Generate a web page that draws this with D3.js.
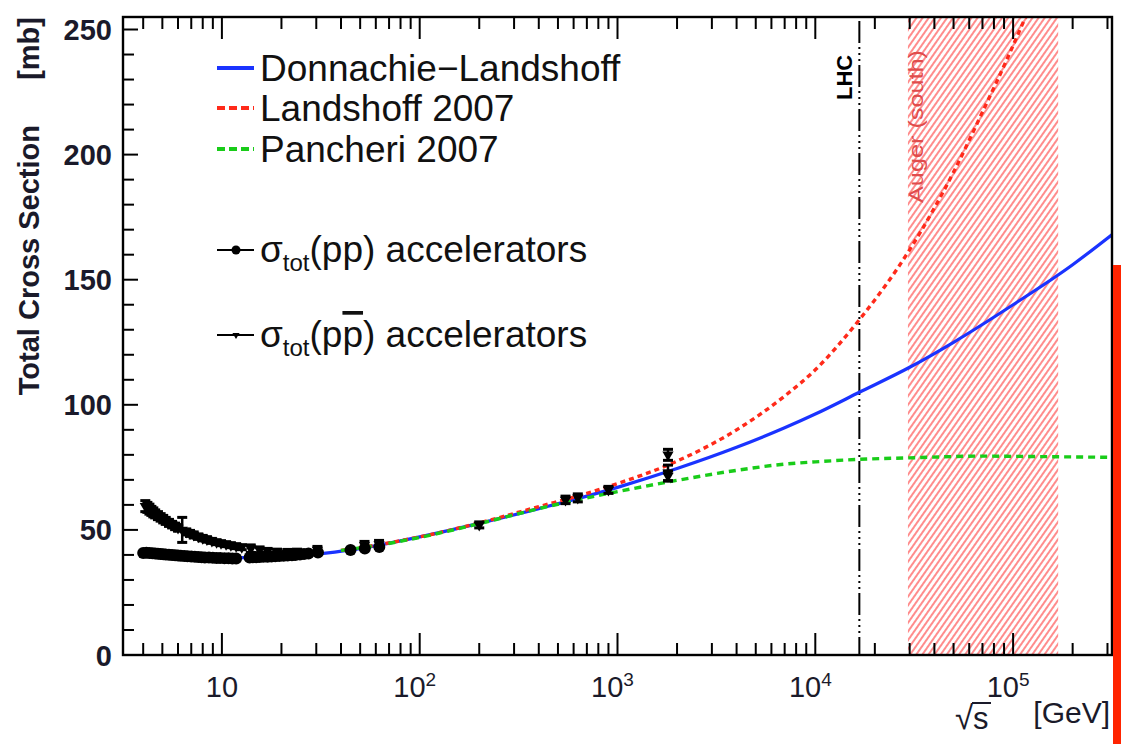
<!DOCTYPE html>
<html>
<head>
<meta charset="utf-8">
<script src="https://cdn.jsdelivr.net/npm/d3@7"></script>
<style>
  html, body { margin: 0; padding: 0; background: #fff; }
  svg { display: block; }
  text { font-family: "Liberation Sans", Arial, Helvetica, sans-serif; }
</style>
</head>
<body>
<svg id="chart" width="1121" height="744"></svg>
<script>
// ---- model curves: sqrt(s) [GeV] and total cross section [mb] ----
const dlSqrtS = [5, 7, 10, 15, 20, 30, 45, 63, 100, 200, 400, 700, 1000, 2000, 4000, 7000, 1e4, 1.67e4, 3e4, 5e4, 1e5, 2e5, 3.16e5];
const dlSigma = [41.5, 40, 39, 38.8, 39.2, 40.3, 42, 44, 47.2, 52.6, 58.5, 63.5, 67, 74.5, 83, 90.8, 96.3, 105, 115, 125, 140, 156, 168];

const l07SqrtS = [40, 63, 100, 200, 400, 700, 1000, 2000, 4000, 7000, 1e4, 1.67e4, 3e4, 5e4, 7e4, 9.3e4, 1.2e5];
const l07Sigma = [41.8, 44.2, 47.2, 52.8, 59.3, 64.6, 68.5, 77.5, 90, 103.5, 114, 134, 162, 193, 217, 238, 258];

const p07SqrtS = [40, 63, 100, 200, 400, 700, 1000, 2000, 4000, 7000, 1e4, 1.67e4, 3e4, 7e4, 1e5, 3.16e5];
const p07Sigma = [41.8, 44, 47, 52.5, 58.5, 62.8, 65.3, 69.8, 73.8, 76.3, 77.2, 78.2, 78.8, 79.5, 79.4, 79];

// ---- accelerator measurements ----
const ppSqrtS = [4.0, 4.15, 4.3, 4.45, 4.6, 4.75, 4.9, 5.05, 5.2, 5.4, 5.6, 5.8, 6.0, 6.2, 6.45, 6.7, 7.0, 7.3, 7.6, 7.9, 8.2, 8.6, 9.0, 9.4, 9.8, 10.3, 10.8, 11.3, 11.8,
                 13.8, 14.3, 14.9, 15.5, 16.2, 17.0, 17.8, 18.6, 19.5, 20.5, 21.5, 22.6, 23.5, 24.8, 26.0, 27.4, 30.6, 44.7, 52.8, 62.5];
const ppSigma  = [40.8, 40.9, 40.8, 40.7, 40.6, 40.5, 40.4, 40.3, 40.2, 40.1, 40.0, 39.9, 39.8, 39.7, 39.6, 39.5, 39.4, 39.3, 39.2, 39.1, 39.0, 39.0, 38.9, 38.8, 38.8, 38.7, 38.7, 38.6, 38.6,
                 39.0, 39.1, 39.1, 39.2, 39.3, 39.3, 39.4, 39.5, 39.6, 39.7, 39.8, 39.9, 40.0, 40.2, 40.4, 40.6, 41.0, 42.0, 42.6, 43.2];
const ppError  = [1.2, 1.2, 1.1, 1.1, 1.0, 1.0, 1.0, 1.0, 1.0, 0.9, 0.9, 0.9, 0.9, 0.9, 0.9, 0.9, 0.9, 0.9, 0.9, 0.9, 0.9, 0.9, 0.9, 0.9, 0.9, 0.9, 0.9, 0.9, 0.9,
                 1.0, 1.0, 1.0, 1.0, 1.0, 1.0, 1.0, 1.0, 1.0, 1.0, 1.0, 1.0, 1.0, 1.0, 1.0, 1.0, 1.2, 1.0, 1.2, 1.2];

const pbarSqrtS = [4.1, 4.2, 4.3, 4.4, 4.5, 4.6, 4.75, 4.9, 5.05, 5.2, 5.4, 5.6, 5.8, 6.0, 6.3, 6.6, 6.9, 7.2, 7.6, 8.0, 8.4, 8.9, 9.4, 9.9, 10.5, 11.1, 11.8, 12.6,
                   14.0, 15.5, 17.0, 19.0, 21.5, 24.0, 30.4, 52.6, 62.3, 200, 546, 630, 900, 1800, 1800, 1800];
const pbarSigma = [59.5, 59.0, 58.3, 57.6, 57.0, 56.4, 55.7, 55.0, 54.3, 53.6, 52.8, 52.1, 51.4, 50.8, 50.0, 49.2, 48.6, 48.0, 47.3, 46.7, 46.2, 45.6, 45.1, 44.7, 44.3, 43.9, 43.5, 43.1,
                   42.5, 42.0, 41.6, 41.3, 41.2, 41.3, 42.0, 43.8, 44.2, 52.0, 62.0, 62.8, 66.0, 80.0, 72.8, 71.5];
const pbarError = [2.2, 2.0, 2.0, 1.8, 1.8, 1.6, 1.6, 1.5, 1.5, 1.4, 1.4, 1.3, 1.3, 1.3, 5.0, 1.2, 1.2, 1.2, 1.1, 1.1, 1.1, 1.0, 1.0, 1.0, 1.0, 1.0, 1.0, 1.0,
                   1.5, 1.2, 1.0, 1.0, 1.0, 1.0, 1.4, 1.6, 1.6, 1.2, 1.5, 1.6, 1.4, 2.2, 3.1, 2.0];

// ---- reference energies ----
const lhcSqrtS = 1.67e4;
const augerRange = [2.94e4, 1.69e5];

// ---- axis ticks ----
const xDecades = [10, 100, 1000, 1e4, 1e5];
const xDecadeExps = ["", "2", "3", "4", "5"];
const yMajorTicks = [0, 50, 100, 150, 200, 250];
const yMinorTicks = d3.range(0, 251, 10);

// ---- legend ----
const modelNames = ["Donnachie\u2212Landshoff", "Landshoff 2007", "Pancheri 2007"];
const modelColors = ["#1a33ff", "#ff2a1a", "#19cc19"];

const svg = d3.select("#chart");
const X0 = 123, X1 = 1112, Y0 = 655, Y1 = 17;

const x = d3.scaleLog().domain([Math.pow(10, 0.5), Math.pow(10, 5.5)]).range([X0, X1]);
const y = d3.scaleLinear().domain([0, 255]).range([Y0, Y1]);

const defs = svg.append("defs");
defs.append("clipPath").attr("id", "plotClip")
  .append("rect").attr("x", X0).attr("y", Y1).attr("width", X1 - X0).attr("height", Y0 - Y1);

const hatch = defs.append("pattern").attr("id", "hatch")
  .attr("patternUnits", "userSpaceOnUse").attr("width", 5).attr("height", 10)
  .attr("patternTransform", "rotate(35)");
hatch.append("line").attr("x1", 1).attr("y1", 0).attr("x2", 1).attr("y2", 10)
  .attr("stroke", "#ff8080").attr("stroke-width", 1.8);

const plot = svg.append("g").attr("clip-path", "url(#plotClip)");

// Auger (south) energy band
plot.append("rect")
  .attr("x", x(augerRange[0])).attr("y", Y1)
  .attr("width", x(augerRange[1]) - x(augerRange[0])).attr("height", Y0 - Y1)
  .attr("fill", "url(#hatch)");

// LHC energy line
plot.append("line")
  .attr("x1", x(lhcSqrtS)).attr("x2", x(lhcSqrtS))
  .attr("y1", Y1 + 4).attr("y2", Y0)
  .attr("stroke", "#000").attr("stroke-width", 2)
  .attr("stroke-dasharray", "22,4,2,4,2,4,2,4");

// model curves
const line = d3.line().x(d => x(d[0])).y(d => y(d[1])).curve(d3.curveMonotoneX);
const curves = [
  { xs: dlSqrtS, ys: dlSigma, color: modelColors[0], dash: null, w: 3.2 },
  { xs: l07SqrtS, ys: l07Sigma, color: modelColors[1], dash: "5,4", w: 3.4 },
  { xs: p07SqrtS, ys: p07Sigma, color: modelColors[2], dash: "7,5", w: 3.4 }
];
curves.forEach(c => {
  plot.append("path")
    .datum(c.xs.map((v, i) => [v, c.ys[i]]))
    .attr("d", line)
    .attr("fill", "none")
    .attr("stroke", c.color)
    .attr("stroke-width", c.w)
    .attr("stroke-dasharray", c.dash);
});

// error bars helper
function errorBars(g, xs, ys, es, cap) {
  g.selectAll(null).data(xs.map((v, i) => [v, ys[i], es[i]])).join("g").each(function(d) {
    const gg = d3.select(this);
    const cx = x(d[0]);
    gg.append("line").attr("x1", cx).attr("x2", cx)
      .attr("y1", y(d[1] - d[2])).attr("y2", y(d[1] + d[2]))
      .attr("stroke", "#000").attr("stroke-width", 2.5);
    if (cap) {
      [d[1] - d[2], d[1] + d[2]].forEach(v => {
        gg.append("line").attr("x1", cx - 5).attr("x2", cx + 5)
          .attr("y1", y(v)).attr("y2", y(v))
          .attr("stroke", "#000").attr("stroke-width", 3);
      });
    }
  });
}

const pts = svg.append("g");
errorBars(pts, pbarSqrtS, pbarSigma, pbarError, true);
errorBars(pts, ppSqrtS, ppSigma, ppError, false);

// p-pbar markers: small downward triangles
const triSym = d3.symbol().type(d3.symbolTriangle).size(55);
pts.selectAll(".pbar").data(pbarSqrtS.map((v, i) => [v, pbarSigma[i]])).join("path")
  .attr("class", "pbar")
  .attr("d", triSym)
  .attr("transform", d => `translate(${x(d[0])},${y(d[1])}) rotate(180)`)
  .attr("fill", "#000");

// p-p markers: filled circles
pts.selectAll(".pp").data(ppSqrtS.map((v, i) => [v, ppSigma[i]])).join("circle")
  .attr("class", "pp")
  .attr("cx", d => x(d[0])).attr("cy", d => y(d[1])).attr("r", 6)
  .attr("fill", "#000");

// ---- frame and ticks ----
const axes = svg.append("g").attr("stroke", "#000");
const minorX = [];
for (let e = 0; e <= 5; e++) {
  for (let m = 2; m <= 9; m++) {
    const v = m * Math.pow(10, e);
    if (v >= x.domain()[0] && v <= x.domain()[1]) minorX.push(v);
  }
}
// bottom ticks (pointing up) and top ticks (pointing down)
[[Y0, -1], [Y1, 1]].forEach(([yy, dir]) => {
  axes.selectAll(null).data(minorX).join("line")
    .attr("x1", d => x(d)).attr("x2", d => x(d))
    .attr("y1", yy).attr("y2", yy + dir * 12).attr("stroke-width", 2);
  axes.selectAll(null).data(xDecades).join("line")
    .attr("x1", d => x(d)).attr("x2", d => x(d))
    .attr("y1", yy).attr("y2", yy + dir * 22).attr("stroke-width", 2);
});
// left ticks (pointing right)
axes.selectAll(null).data(yMinorTicks).join("line")
  .attr("x1", X0).attr("x2", d => X0 + (d % 50 === 0 ? 15 : 11))
  .attr("y1", d => y(d)).attr("y2", d => y(d)).attr("stroke-width", 2);

svg.append("rect").attr("x", X0).attr("y", Y1).attr("width", X1 - X0).attr("height", Y0 - Y1)
  .attr("fill", "none").attr("stroke", "#000").attr("stroke-width", 2.4);

// ---- tick labels ----
svg.append("g").selectAll("text").data(yMajorTicks).join("text")
  .attr("x", 112).attr("y", d => y(d) + 10.5)
  .attr("text-anchor", "end").attr("font-size", 29).attr("font-weight", "bold")
  .attr("fill", "#1a1a2a")
  .text(d => d);

const xl = svg.append("g").selectAll("text").data(xDecades).join("text")
  .attr("x", (d, i) => x(d) + (xDecadeExps[i] ? -5 : 0))
  .attr("y", 697)
  .attr("text-anchor", "middle").attr("font-size", 29).attr("fill", "#1a1a2a");
xl.append("tspan").text("10");
xl.append("tspan").attr("dy", -11).attr("font-size", 19).text((d, i) => xDecadeExps[i]);

// ---- axis titles ----
svg.append("text")
  .attr("transform", "translate(39,17) rotate(-90)")
  .attr("text-anchor", "end").attr("font-size", 29).attr("font-weight", "bold").attr("fill", "#1a1a2a")
  .text("[mb]");
svg.append("text")
  .attr("transform", "translate(39,125) rotate(-90)")
  .attr("text-anchor", "end").attr("font-size", 29).attr("font-weight", "bold").attr("fill", "#1a1a2a")
  .text("Total Cross Section");

// sqrt(s) with a drawn radical bar
svg.append("text").attr("x", 955).attr("y", 729).attr("font-size", 33).attr("fill", "#1a1a2a").text("\u221A");
svg.append("text").attr("x", 973).attr("y", 729).attr("font-size", 31).attr("fill", "#1a1a2a").text("s");
svg.append("line").attr("x1", 972).attr("x2", 991).attr("y1", 703).attr("y2", 703)
  .attr("stroke", "#1a1a2a").attr("stroke-width", 2);
svg.append("text").attr("x", 1110).attr("y", 723).attr("text-anchor", "end").attr("font-size", 30).attr("fill", "#1a1a2a").text("[GeV]");

// ---- band labels ----
svg.append("text")
  .attr("transform", `translate(${x(lhcSqrtS) - 7},100) rotate(-90)`)
  .attr("font-size", 22).attr("font-weight", "bold").attr("fill", "#000")
  .text("LHC");
svg.append("text")
  .attr("transform", `translate(${x(augerRange[0]) + 15},203) rotate(-90)`)
  .attr("font-size", 21).attr("fill", "#e04c4c")
  .attr("textLength", 153).attr("lengthAdjust", "spacingAndGlyphs")
  .text("Auger (south)");

// ---- legend ----
const lg = svg.append("g");
const legY = [68, 108, 149];
const legDash = [null, "8,4", "8,4"];
modelNames.forEach((name, i) => {
  lg.append("line").attr("x1", 217).attr("x2", 254).attr("y1", legY[i]).attr("y2", legY[i])
    .attr("stroke", modelColors[i]).attr("stroke-width", 4).attr("stroke-dasharray", legDash[i]);
  lg.append("text").attr("x", 260).attr("y", legY[i] + 13).attr("font-size", 37).attr("fill", "#111")
    .text(name);
});

const dataLeg = [
  { y: 250, marker: "circle", bar: false },
  { y: 335, marker: "tri", bar: true }
];
dataLeg.forEach(d => {
  lg.append("line").attr("x1", 217).attr("x2", 254).attr("y1", d.y).attr("y2", d.y)
    .attr("stroke", "#000").attr("stroke-width", 2);
  if (d.marker === "circle") {
    lg.append("circle").attr("cx", 236).attr("cy", d.y).attr("r", 4.5).attr("fill", "#000");
  } else {
    lg.append("path").attr("d", d3.symbol().type(d3.symbolTriangle).size(22)())
      .attr("transform", `translate(236,${d.y}) rotate(180)`).attr("fill", "#000");
  }
  const t = lg.append("text").attr("x", 260).attr("y", d.y + 12).attr("font-size", 37).attr("fill", "#111");
  t.append("tspan").text("\u03C3");
  t.append("tspan").attr("font-size", 24).attr("dy", 9).text("tot");
  const paren = t.append("tspan").attr("dy", -9);
  if (d.bar) {
    paren.text("(p");
    t.append("tspan").style("text-decoration", "overline").text("p");
    t.append("tspan").text(") accelerators");
  } else {
    paren.text("(pp) accelerators");
  }
});

// right-hand marker bar
svg.append("rect").attr("x", 1113).attr("y", 265).attr("width", 8).attr("height", 479).attr("fill", "#ff2400");
</script>
</body>
</html>
